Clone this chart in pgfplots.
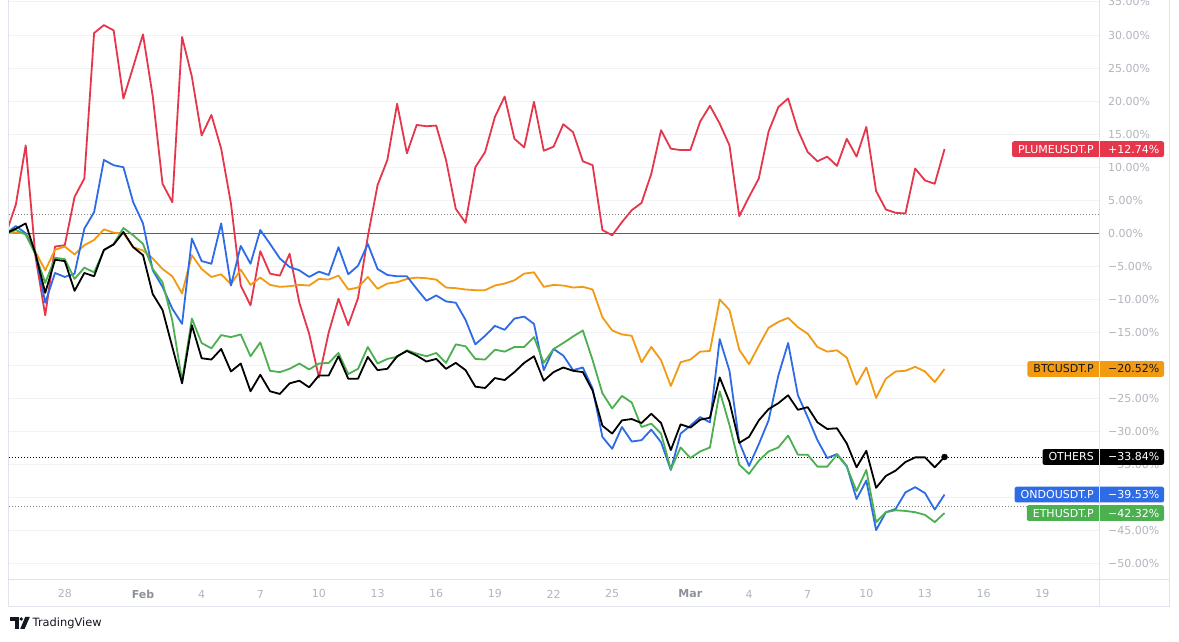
\documentclass[border=0pt]{standalone}
\usepackage{fontspec}
\setmainfont{DejaVu Sans}
\usepackage{pgfplots}
\pgfplotsset{compat=1.18}
\usepackage{pgfplotstable}

\definecolor{plume}{HTML}{E5364B}
\definecolor{ondo}{HTML}{2E6BE6}
\definecolor{btc}{HTML}{F29A12}
\definecolor{eth}{HTML}{4CAF50}
\definecolor{gridc}{HTML}{F0F2F6}
\definecolor{framec}{HTML}{E0E3EB}
\definecolor{tickc}{HTML}{B2B5BE}
\definecolor{monc}{HTML}{8E919A}
\definecolor{zeroc}{HTML}{5A5E6A}
\definecolor{tvdark}{HTML}{131722}

\newcommand{\lab}{\fontsize{11}{13}\selectfont}

% d = day offset from Feb 1 (half-day steps)
\pgfplotstableread{
d plume ondo btc eth others
-7.0 0 0 0 0 0
-6.5 4.4 1.1 0.1 0.5 0.7
-6.0 13.3 0 0 -0.2 1.5
-5.5 -3.5 -3.1 -2.8 -3.2 -3.1
-5.0 -12.4 -10.5 -5.6 -7.5 -9.0
-4.5 -2.0 -6.0 -2.5 -3.7 -4.0
-4.0 -1.8 -6.6 -2.0 -3.9 -4.2
-3.5 5.5 -6.1 -3.2 -6.9 -8.7
-3.0 8.3 0.7 -1.8 -5.2 -6.0
-2.5 30.3 3.2 -1.0 -5.9 -6.5
-2.0 31.5 11.1 0.6 -2.6 -2.5
-1.5 30.7 10.3 0.1 -1.6 -1.7
-1.0 20.4 10.0 0.0 0.8 0.2
-0.5 25.2 4.7 -2.1 -0.3 -2.1
0.0 30.1 1.5 -2.6 -1.6 -3.3
0.5 20.7 -5.6 -3.8 -5.4 -9.2
1.0 7.5 -8.1 -5.4 -7.4 -11.6
1.5 4.7 -11.4 -6.5 -13.2 -17.2
2.0 29.7 -13.7 -9.1 -22.3 -22.7
2.5 23.7 -0.8 -3.3 -12.9 -13.9
3.0 14.8 -4.2 -5.4 -16.6 -18.9
3.5 17.9 -4.6 -6.6 -17.4 -19.1
4.0 12.8 1.5 -6.2 -15.4 -17.5
4.5 4.5 -7.9 -7.7 -15.7 -20.9
5.0 -7.9 -1.9 -5.5 -15.3 -19.7
5.5 -10.9 -4.6 -7.8 -18.6 -23.9
6.0 -2.7 0.5 -6.7 -16.5 -21.4
6.5 -6.1 -1.6 -7.8 -20.8 -23.9
7.0 -6.4 -3.8 -8.1 -21.0 -24.3
7.5 -3.1 -5.1 -8.0 -20.5 -22.7
8.0 -10.5 -5.6 -7.8 -19.7 -22.3
8.5 -15.2 -6.6 -7.9 -20.6 -23.3
9.0 -21.8 -5.8 -6.9 -19.7 -21.5
9.5 -15.0 -6.3 -7.0 -19.6 -21.5
10.0 -9.9 -2.1 -6.4 -18.1 -18.6
10.5 -13.9 -6.2 -8.5 -21.3 -22.0
11.0 -9.8 -4.9 -8.2 -20.5 -22.0
11.5 -0.5 -1.6 -6.6 -17.2 -18.7
12.0 7.3 -5.4 -8.4 -19.7 -20.7
12.5 11.1 -6.3 -7.6 -19.0 -20.5
13.0 19.6 -6.5 -7.4 -18.7 -18.6
13.5 12.1 -6.5 -6.9 -17.7 -17.8
14.0 16.4 -8.4 -6.7 -18.2 -18.5
14.5 16.2 -10.2 -6.8 -18.6 -19.4
15.0 16.3 -9.4 -7.0 -18.1 -19.0
15.5 11.1 -10.3 -8.2 -19.6 -20.5
16.0 3.7 -10.5 -8.3 -16.8 -19.6
16.5 1.6 -13.1 -8.5 -17.1 -20.7
17.0 10.0 -16.8 -8.6 -19.0 -23.2
17.5 12.3 -15.5 -8.6 -19.1 -23.4
18.0 17.6 -14.0 -7.9 -17.6 -21.9
18.5 20.7 -14.6 -7.6 -17.9 -22.2
19.0 14.3 -12.9 -7.1 -17.2 -21.0
19.5 13.0 -12.6 -6.1 -17.2 -19.6
20.0 19.9 -13.7 -5.9 -15.7 -18.6
20.5 12.5 -20.7 -8.1 -19.6 -22.3
21.0 13.1 -17.5 -7.8 -17.5 -21.0
21.5 16.5 -18.5 -7.9 -16.6 -20.3
22.0 15.3 -20.7 -8.2 -15.6 -20.8
22.5 10.9 -20.3 -8.1 -14.7 -21.0
23.0 10.3 -23.5 -8.5 -19.2 -23.8
23.5 0.5 -30.8 -12.7 -24.2 -29.1
24.0 -0.3 -32.6 -14.7 -26.5 -30.3
24.5 1.7 -29.3 -15.3 -24.6 -28.3
25.0 3.5 -31.5 -15.5 -25.6 -28.1
25.5 4.6 -31.3 -19.5 -29.3 -28.7
26.0 9.0 -29.7 -17.2 -28.8 -27.3
26.5 15.6 -31.6 -19.2 -30.3 -28.7
27.0 12.8 -35.8 -23.1 -35.7 -32.8
27.5 12.6 -30.3 -19.5 -32.4 -28.9
28.0 12.6 -29.1 -19.1 -34.0 -29.4
28.5 16.9 -27.8 -17.9 -33.0 -28.2
29.0 19.3 -28.6 -17.8 -32.4 -27.9
29.5 16.6 -16.0 -10.0 -23.9 -21.8
30.0 13.3 -20.8 -11.6 -29.0 -25.5
30.5 2.6 -31.6 -17.6 -35.0 -31.7
31.0 5.5 -35.2 -19.8 -36.4 -30.8
31.5 8.3 -31.9 -17.0 -34.4 -28.3
32.0 15.4 -28.3 -14.3 -33.0 -26.6
32.5 19.1 -21.5 -13.4 -32.4 -25.7
33.0 20.4 -16.6 -12.8 -30.6 -24.5
33.5 15.6 -24.5 -14.2 -33.5 -26.7
34.0 12.3 -27.8 -15.2 -33.5 -26.3
34.5 10.9 -31.3 -17.2 -35.3 -28.6
35.0 11.6 -34.0 -17.9 -35.3 -29.6
35.5 10.2 -33.4 -17.7 -33.5 -29.5
36.0 14.3 -35.2 -18.8 -35.3 -31.8
36.5 11.6 -40.2 -22.9 -39.0 -35.4
37.0 16.1 -37.4 -20.3 -35.8 -32.9
37.5 6.4 -44.9 -24.9 -43.7 -38.5
38.0 3.6 -42.2 -22.0 -42.2 -36.7
38.5 3.1 -41.7 -20.9 -41.9 -35.9
39.0 3.0 -39.2 -20.8 -42.0 -34.6
39.5 9.8 -38.4 -20.2 -42.2 -33.9
40.0 8.0 -39.3 -20.9 -42.6 -33.9
40.5 7.5 -41.8 -22.5 -43.7 -35.4
41.0 12.74 -39.53 -20.52 -42.32 -33.84
}\data

\begin{document}
\begin{tikzpicture}[x=1pt,y=1pt]
\useasboundingbox (0,0) rectangle (1179,642);
\fill[white] (0,0) rectangle (1179,642);

\begin{axis}[
  at={(8pt,62pt)}, anchor=south west,
  scale only axis, width=1091pt, height=580pt,
  xmin=-6.905, xmax=48.9, ymin=-52.45, ymax=35.3,
  axis line style={draw=none},
  tick style={draw=none},
  ymajorgrids, grid style={gridc, line width=1pt},
  ytick={-50,-45,-40,-35,-30,-25,-20,-15,-10,-5,0,5,10,15,20,25,30,35},
  yticklabels={−50.00\%,−45.00\%,−40.00\%,−35.00\%,−30.00\%,−25.00\%,−20.00\%,−15.00\%,−10.00\%,−5.00\%,0.00\%,5.00\%,10.00\%,15.00\%,20.00\%,25.00\%,30.00\%,35.00\%},
  yticklabel pos=right,
  yticklabel style={font=\lab, text=tickc, anchor=west, inner sep=0pt, xshift=9pt},
  xtick={-4,0,3,6,9,12,15,18,21,24,28,31,34,37,40,43,46},
  xticklabels={28,\textbf{\textcolor{monc}{Feb}},4,7,10,13,16,19,22,25,\textbf{\textcolor{monc}{Mar}},4,7,10,13,16,19},
  xticklabel style={font=\lab, text=tickc, anchor=center, inner sep=0pt, yshift=-14pt},
]
\addplot[zeroc, line width=1pt] coordinates {(-7,0) (49,0)};
\addplot[gray, line width=0.9pt, dash pattern=on 1pt off 2pt] coordinates {(-7,2.9) (49,2.9)};
\addplot[gray, line width=0.9pt, dash pattern=on 1pt off 2pt] coordinates {(-7,-41.3) (45.3,-41.3)};
\addplot[black, line width=0.9pt, dash pattern=on 1pt off 2pt] coordinates {(-7,-33.84) (46.1,-33.84)};

\addplot[plume, line width=1.8pt, line join=round] table[x=d,y=plume]{\data};
\addplot[btc, line width=1.8pt, line join=round] table[x=d,y=btc]{\data};
\addplot[ondo, line width=1.8pt, line join=round] table[x=d,y=ondo]{\data};
\addplot[eth, line width=1.8pt, line join=round] table[x=d,y=eth]{\data};
\addplot[black, line width=1.8pt, line join=round] table[x=d,y=others]{\data};
\addplot[black, only marks, mark=*, mark size=3pt] coordinates {(41,-33.84)};
\end{axis}

% frame
\draw[framec, line width=1pt] (8,62) -- (1169,62);
\draw[framec, line width=1pt] (8,35) -- (1169,35);
\draw[framec, line width=1pt] (8,35) -- (8,642);
\draw[framec, line width=1pt] (1169,35) -- (1169,642);

% labels
\newcommand{\tvlabel}[5]{%
  \fill[#1, rounded corners=2pt] (1096,#5-7.85) rectangle (1164,#5+7.85);
  \node[anchor=east, fill=#1, text=#2, font=\lab, inner xsep=6pt, inner ysep=0pt,
        minimum height=15.7pt, rounded corners=2pt] at (1100,#5) {#3};
  \node[anchor=west, text=#2, font=\lab, inner sep=0pt] at (1108,#5) {#4};
}
\tvlabel{plume}{white}{PLUMEUSDT.P}{+12.74\%}{492.9}
\tvlabel{btc}{tvdark}{BTCUSDT.P}{−20.52\%}{273.05}
\tvlabel{black}{white}{OTHERS}{−33.84\%}{185.0}
\tvlabel{ondo}{white}{ONDOUSDT.P}{−39.53\%}{147.4}
\tvlabel{eth}{white}{ETHUSDT.P}{−42.32\%}{128.96}

\draw[framec, line width=1pt] (1099,35) -- (1099,642);

% TradingView logo
\fill[tvdark] (10,25) rectangle (18.5,21);
\fill[tvdark] (14.5,21) rectangle (18.5,13);
\fill[tvdark] (21.3,23) circle (1.9);
\fill[tvdark] (25.2,25) -- (29.8,25) -- (24.6,13) -- (20.2,13) -- cycle;
\node[anchor=west, inner sep=0pt, text=tvdark, font=\fontsize{11.4}{13}\selectfont] at (32.5,19) {TradingView};
\end{tikzpicture}
\end{document}
